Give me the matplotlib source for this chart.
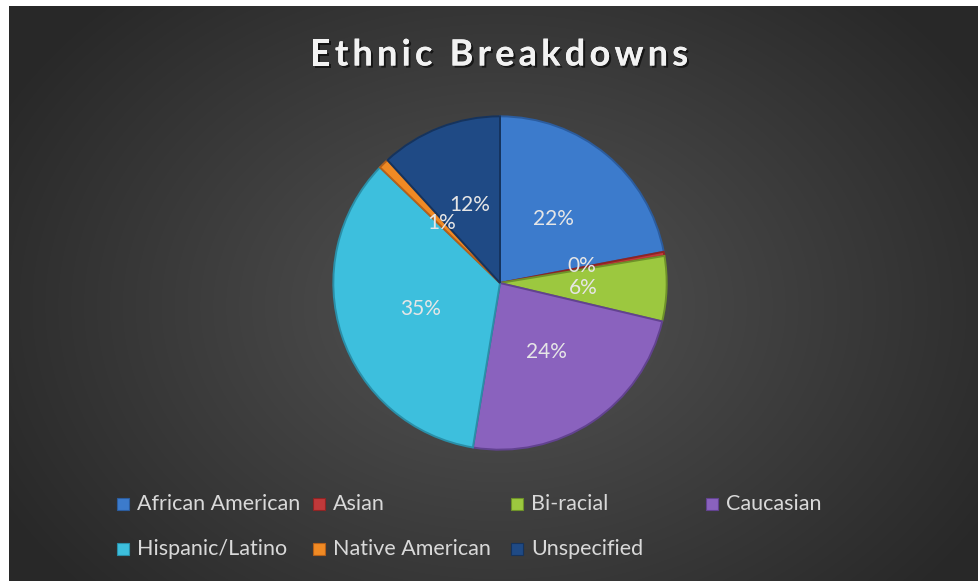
import numpy as np
import matplotlib
matplotlib.use("Agg")
import matplotlib.pyplot as plt
import matplotlib.patheffects as pe
from matplotlib.patches import Rectangle

categories = ["African American", "Asian", "Bi-racial", "Caucasian",
              "Hispanic/Latino", "Native American", "Unspecified"]
values = [22.0, 0.4, 6.3, 23.9, 34.6, 1.0, 11.8]
labels = ["22%", "0%", "6%", "24%", "35%", "1%", "12%"]
colors = ["#3C7BCC", "#C0393A", "#9CC83F", "#8A62BE", "#3DBFDD", "#F08A24", "#1F4A85"]
edge_colors = ["#2B5C9E", "#8E2424", "#6E9229", "#624290", "#2A8FA8", "#B5601A", "#15335D"]
title = "Ethnic Breakdowns"

W, H = 979, 581
fig = plt.figure(figsize=(W / 100, H / 100), dpi=100)
fig.patch.set_facecolor("white")

# background radial gradient
bg = fig.add_axes([9 / W, 0, (W - 9) / W, (H - 6) / H])
yy, xx = np.mgrid[0:575, 0:970]
cx, cy = 490, 300
r = np.sqrt(((xx - cx) / 560.0) ** 2 + ((yy - cy) / 420.0) ** 2)
r = np.clip(r, 0, 1)
c0, c1 = 0.33, 0.16
img = c0 + (c1 - c0) * r
bg.imshow(np.dstack([img, img, img]), aspect="auto", extent=[0, 1, 0, 1])
bg.set_axis_off()

# pie
R = 170
pcx, pcy = 500, 581 - 283
ax = fig.add_axes([(pcx - R) / W, (pcy - R) / H, 2 * R / W, 2 * R / H])
wedges, _ = ax.pie(values, colors=colors, startangle=90, counterclock=False,
                   wedgeprops=dict(linewidth=1.4))
for w, ec in zip(wedges, edge_colors):
    w.set_edgecolor(ec)
ax.set_xlim(-1.02, 1.02)
ax.set_ylim(-1.02, 1.02)
ax.set_aspect("equal")
ax.set_axis_off()

# percentage label positions (centre of each wedge at half radius)
total = sum(values)
ang = 90.0
pos = []
for v in values:
    span = 360.0 * v / total
    mid = np.deg2rad(ang - span / 2)
    ang -= span
    pos.append([0.5 * np.cos(mid), 0.5 * np.sin(mid)])
# push apart labels of adjacent thin slices vertically
min_sep = 0.135
for i in range(len(pos) - 1):
    a, b = pos[i], pos[i + 1]
    if abs(a[0] - b[0]) < 0.15 and abs(a[1] - b[1]) < min_sep:
        d = (min_sep - abs(a[1] - b[1])) / 2
        if a[1] >= b[1]:
            a[1] += d
            b[1] -= d
        else:
            a[1] -= d
            b[1] += d
for (x, y), lab in zip(pos, labels):
    ax.text(x, y, lab, ha="center", va="center",
            fontsize=15, color="#E6E6E6", family="Lato")

# title with letter spacing
renderer = fig.canvas.get_renderer()
tprops = dict(fontsize=26, fontweight="bold", family="Lato")

def text_w(s):
    t = fig.text(0, 0, s + "|", **tprops)
    w1 = t.get_window_extent(renderer).width
    t.remove()
    t = fig.text(0, 0, "|", **tprops)
    w2 = t.get_window_extent(renderer).width
    t.remove()
    return w1 - w2

target_w = 378.0
base_w = text_w(title)
sp = (target_w - base_w) / (len(title) - 1)
left = 499 - target_w / 2
for i, ch in enumerate(title):
    if ch == " ":
        continue
    x = left + text_w(title[:i]) + i * sp
    fig.text(x / W, 1 - 55 / H, ch, ha="left", va="center", color="#F2F2F2",
             path_effects=[pe.withSimplePatchShadow(offset=(1.5, -1.5),
                                                    shadow_rgbFace="black", alpha=0.6),
                           pe.Normal()], **tprops)

# legend (manual grid)
col_x = [123, 319, 517, 712]
row_y = [504, 549]
for i, (cat, col) in enumerate(zip(categories, colors)):
    rr, cc = divmod(i, 4)
    x, y = col_x[cc], row_y[rr]
    fig.patches.append(Rectangle(((x - 6) / W, 1 - (y + 6) / H), 12 / W, 12 / H,
                                 transform=fig.transFigure, facecolor=col,
                                 edgecolor=edge_colors[i], linewidth=0.8))
    fig.text((x + 14) / W, 1 - y / H, cat, ha="left", va="center",
             fontsize=15.5, color="#D9D9D9", family="Lato")

fig.savefig("out.png", dpi=100, facecolor=fig.get_facecolor())
